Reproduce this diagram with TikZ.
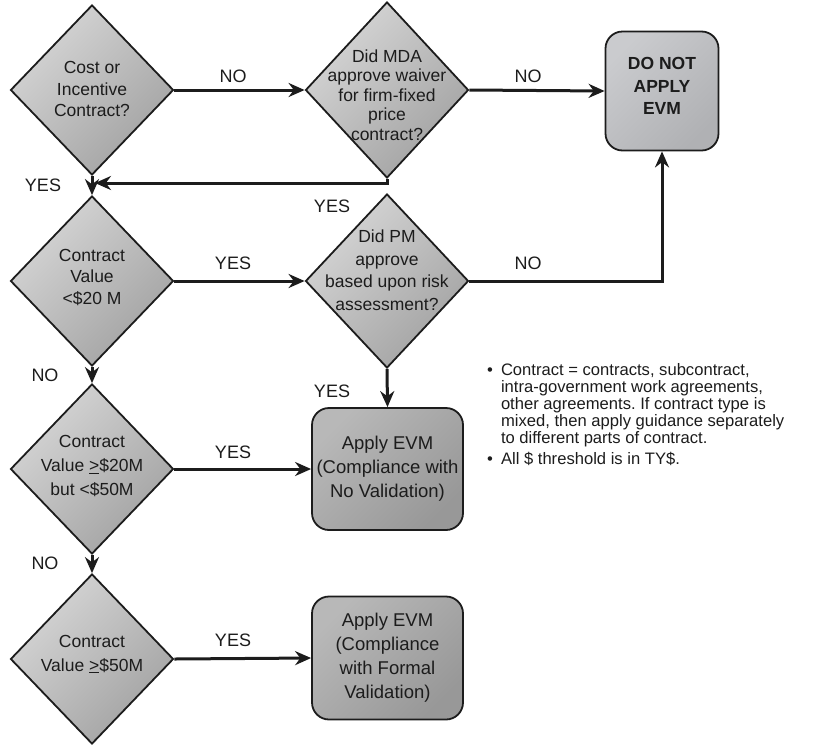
\documentclass[tikz,border=0pt]{standalone}
\usepackage{fontspec}
\setmainfont{Liberation Sans}
\usetikzlibrary{shapes.geometric,arrows.meta}
\frenchspacing

\definecolor{ink}{HTML}{1C1C1C}
\definecolor{dialight}{HTML}{D6D6D6}
\definecolor{diadark}{HTML}{A2A2A2}
\definecolor{stoplight}{HTML}{CACBCE}
\definecolor{stopdark}{HTML}{B0B1B4}
\definecolor{evmlight}{HTML}{B8B8B8}
\definecolor{evmdark}{HTML}{989898}

\tikzset{
  decision/.style={diamond, draw=ink, line width=1.8pt, minimum width=163pt, minimum height=170pt,
    inner sep=0pt, top color=dialight, bottom color=diadark, shading angle=45},
  qtext/.style={align=center, inner sep=0pt, text=ink, font=\fontsize{17.5}{21.5}\selectfont},
  outcome/.style={rectangle, rounded corners=17pt, draw=ink, line width=1.8pt, inner sep=1pt,
    align=center, text=ink, font=\fontsize{18.5}{24}\selectfont,
    top color=evmlight, bottom color=evmdark, shading angle=45},
  answer/.style={inner sep=0pt, text=ink, font=\fontsize{18}{20}\selectfont},
  conn/.style={draw=ink, line width=3pt, -{Stealth[length=16pt,width=14pt]}}
}

\begin{document}
\begin{tikzpicture}[x=1pt,y=-1pt]
\path[use as bounding box] (0,0) rectangle (826,753);

\node[decision] (cost) at (92,90) {};
\node[qtext] (cost-t) at (92,89) {Cost or\\Incentive\\Contract?};
\node[decision, minimum height=176pt] (mda) at (387,90) {};
\node[qtext, font=\fontsize{17.5}{19.5}\selectfont] (mda-t) at (387,95) {Did MDA\\approve waiver\\for firm-fixed\\price\\contract?};
\node[outcome, minimum width=113pt, minimum height=119pt, top color=stoplight, bottom color=stopdark,
  shading angle=45] (noevm) at (662,91) {};
\node[qtext, font=\bfseries\fontsize{17.5}{22.5}\selectfont] (noevm-t) at (662,86) {DO NOT\\APPLY\\EVM};

\node[decision] (small) at (92,281) {};
\node[qtext] (small-t) at (92,277) {Contract\\Value\\<\$20 M};
\node[decision, minimum height=174pt] (pm) at (387,281) {};
\node[qtext, font=\fontsize{17.5}{22.5}\selectfont] (pm-t) at (387,270) {Did PM\\approve\\based upon risk\\assessment?};

\node[decision] (mid) at (92,469) {};
\node[qtext, font=\fontsize{17.5}{24}\selectfont] (mid-t) at (92,466) {Contract\\Value \underline{>}\$20M\\but <\$50M};
\node[outcome, minimum width=151pt, minimum height=122pt] (nov) at (387.5,469) {Apply EVM\\(Compliance with\\No Validation)};

\node[decision] (large) at (92,659) {};
\node[qtext, font=\fontsize{17.5}{24}\selectfont] (large-t) at (92,654) {Contract\\Value \underline{>}\$50M};
\node[outcome, minimum width=151pt, minimum height=123pt] (formal) at (387.5,658) {Apply EVM\\(Compliance\\with Formal\\Validation)};

\node[anchor=north west, inner sep=0pt, text=ink, font=\fontsize{16.6}{17}\selectfont] (note) at (487,363) {%
  \begin{tabular}{@{}l@{\hspace{8pt}}l@{}}
  \textbullet & Contract = contracts, subcontract,\\
  & intra-government work agreements,\\
  & other agreements. If contract type is\\
  & mixed, then apply guidance separately\\
  & to different parts of contract.\\[3pt]
  \textbullet & All \$ threshold is in TY\$.
  \end{tabular}};

\coordinate (merge) at (95,183);

\draw[conn] (cost.east) -- (mda.west);
\draw[conn] (mda.east) -- (noevm.west);
\draw[conn] (mda.south) |- (merge);
\draw[conn] (cost.south) -- (small.north);
\draw[conn] (small.east) -- (pm.west);
\draw[conn] (pm.east) -| (noevm.south);
\draw[conn] (small.south) -- (mid.north);
\draw[conn] (pm.south) -- (nov.north);
\draw[conn] (mid.east) -- (nov.west);
\draw[conn] (mid.south) -- (large.north);
\draw[conn] (large.east) -- (formal.west);

\node[answer] (no-a) at (233,76) {NO};
\node[answer] (no-b) at (528,76) {NO};
\node[answer] (yes-a) at (43,185) {YES};
\node[answer] (yes-b) at (332,206) {YES};
\node[answer] (yes-c) at (233,263) {YES};
\node[answer] (no-c) at (528,263) {NO};
\node[answer] (no-d) at (45,375) {NO};
\node[answer] (yes-d) at (332,391) {YES};
\node[answer] (yes-e) at (233,452) {YES};
\node[answer] (no-e) at (45,563) {NO};
\node[answer] (yes-f) at (233,640) {YES};
\end{tikzpicture}
\end{document}
